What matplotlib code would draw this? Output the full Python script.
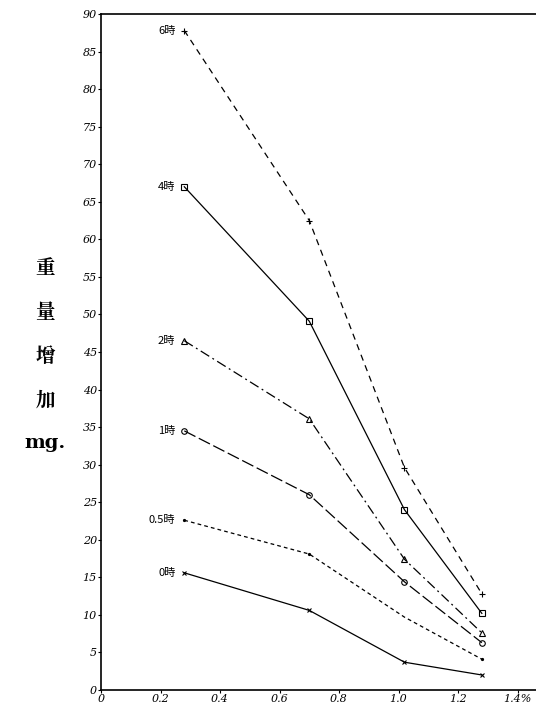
import matplotlib
matplotlib.use("Agg")
import matplotlib.pyplot as plt

plt.rcParams['font.family'] = ['Noto Sans CJK JP', 'DejaVu Sans']

# concentration (%) of each measurement
conc = [0.28, 0.70, 1.02, 1.28]

# weight increase (mg) per immersion time
series_labels = ["6時", "4時", "2時", "1時", "0.5時", "0時"]
w_6h = [87.8, 62.5, 29.6, 12.8]
w_4h = [67.0, 49.1, 24.0, 10.2]
w_2h = [46.5, 36.1, 17.4, 7.6]
w_1h = [34.5, 26.0, 14.4, 6.3]
w_05h = [22.6, 18.1, 9.7, 4.1]
w_0h = [15.6, 10.6, 3.7, 2.0]

xticks = [0, 0.2, 0.4, 0.6, 0.8, 1.0, 1.2, 1.4]
xticklabels = ["0", "0.2", "0.4", "0.6", "0.8", "1.0", "1.2", "1.4%"]
yticks = list(range(0, 91, 5))

styles = [
    dict(ls=(0, (5, 4)), marker='+', ms=5),
    dict(ls='-', marker='s', ms=4, mfc='none'),
    dict(ls=(0, (8, 3, 1.5, 3)), marker='^', ms=4, mfc='none'),
    dict(ls=(0, (10, 3)), marker='o', ms=4, mfc='none'),
    dict(ls=(0, (3, 2.5)), marker='.', ms=3, markevery=[0, 1, 3]),
    dict(ls='-', marker='x', ms=3),
]

fig = plt.figure(figsize=(5.36, 7.04), dpi=100)
ax = fig.add_axes([101 / 536, 14 / 704, 435 / 536, 676 / 704])

all_series = [w_6h, w_4h, w_2h, w_1h, w_05h, w_0h]
for lab, ys, st in zip(series_labels, all_series, styles):
    ax.plot(conc, ys, color='black', lw=0.9, mew=0.8, **st)
    ax.text(conc[0] - 0.03, ys[0], lab, ha='right', va='center',
            fontsize=8, style='italic')

ax.set_xlim(0, 1.462)
ax.set_ylim(0, 90)
ax.set_xticks(xticks)
ax.set_xticklabels(xticklabels, fontsize=8, style='italic', family='DejaVu Serif')
ax.set_yticks(yticks)
ax.set_yticklabels([str(v) for v in yticks], fontsize=8, style='italic',
                   family='DejaVu Serif')
ax.tick_params(axis='both', direction='out', length=2, width=0.8, pad=1)

ax.spines['right'].set_visible(False)
for s in ['left', 'bottom', 'top']:
    ax.spines[s].set_linewidth(1.2)

# vertical stacked y label
for i, ch in enumerate(["重", "量", "增", "加"]):
    fig.text(45 / 536, 1 - (268 + i * 44) / 704, ch, ha='center', va='center',
             fontsize=14, fontweight='bold',
             family=['Noto Serif CJK JP', 'Noto Sans CJK JP'])
fig.text(45 / 536, 1 - 443 / 704, "mg.", ha='center', va='center',
         fontsize=14, fontweight='bold', family='DejaVu Serif')

fig.savefig("out.png", dpi=100)
